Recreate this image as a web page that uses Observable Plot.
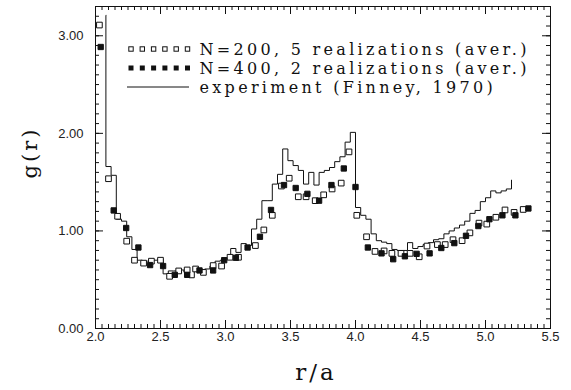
<!DOCTYPE html>
<html><head><meta charset="utf-8">
<script src="https://cdn.jsdelivr.net/npm/d3@7"></script>
<script src="https://cdn.jsdelivr.net/npm/@observablehq/plot@0.6"></script>
<style>html,body{margin:0;padding:0;background:#fff;} #chart{width:571px;height:390px;}</style>
</head><body><div id="chart"></div>
<script>
// ---- data ----
// experiment (Finney, 1970): histogram bin left edges and g(r) (first point = top of initial vertical, last = end of final riser)
const expR = [2.08,2.08,2.12,2.16,2.20,2.24,2.28,2.32,2.36,2.40,2.44,2.48,2.52,2.56,2.60,2.64,2.68,2.72,2.76,2.80,2.84,2.88,2.92,2.96,3.00,3.04,3.08,3.12,3.16,3.20,3.24,3.28,3.32,3.36,3.40,3.44,3.48,3.52,3.56,3.60,3.64,3.68,3.72,3.76,3.80,3.84,3.88,3.92,3.96,4.00,4.04,4.08,4.12,4.16,4.20,4.24,4.28,4.32,4.36,4.40,4.44,4.48,4.52,4.56,4.60,4.64,4.68,4.72,4.76,4.80,4.84,4.88,4.92,4.96,5.00,5.04,5.08,5.12,5.16,5.20];
const expG = [3.21,1.66,1.57,1.12,1.10,0.94,0.81,0.70,0.69,0.69,0.70,0.71,0.56,0.59,0.59,0.60,0.58,0.52,0.59,0.60,0.61,0.64,0.69,0.70,0.72,0.82,0.78,0.87,0.85,1.02,1.12,1.31,1.31,1.48,1.58,1.84,1.72,1.67,1.62,1.48,1.60,1.47,1.60,1.62,1.65,1.71,1.76,1.91,2.01,1.24,1.16,1.12,0.97,0.90,0.885,0.87,0.81,0.80,0.80,0.88,0.82,0.84,0.86,0.88,0.91,0.92,0.97,1.00,1.03,1.06,1.10,1.18,1.21,1.30,1.34,1.41,1.39,1.41,1.43,1.52];
// N=200, 5 realizations (open squares)
const n200R = [2.03,2.10,2.17,2.24,2.30,2.37,2.43,2.50,2.57,2.64,2.705,2.77,2.83,2.905,2.97,3.035,3.10,3.23,3.295,3.36,3.43,3.49,3.56,3.62,3.69,3.755,3.82,3.89,3.95,4.01,4.085,4.15,4.22,4.28,4.35,4.42,4.49,4.55,4.63,4.69,4.75,4.82,4.88,4.95,5.01,5.08,5.15,5.22,5.29];
const n200G = [3.11,1.535,1.15,0.895,0.70,0.67,0.69,0.70,0.535,0.59,0.60,0.61,0.575,0.645,0.64,0.73,0.73,0.85,1.01,1.16,1.46,1.54,1.35,1.35,1.31,1.37,1.43,1.49,1.81,1.16,0.94,0.79,0.795,0.77,0.77,0.77,0.735,0.845,0.86,0.86,0.91,0.90,0.98,1.08,1.07,1.14,1.215,1.19,1.22];
// N=400, 2 realizations (filled squares)
const n400R = [2.04,2.14,2.236,2.33,2.42,2.52,2.61,2.705,2.80,2.905,2.99,3.08,3.17,3.265,3.35,3.45,3.54,3.63,3.72,3.815,3.91,4.00,4.095,4.20,4.29,4.38,4.47,4.57,4.66,4.76,4.85,4.945,5.03,5.13,5.23,5.33];
const n400G = [2.885,1.21,1.03,0.83,0.65,0.64,0.55,0.55,0.595,0.595,0.70,0.725,0.83,0.94,1.215,1.47,1.44,1.38,1.31,1.47,1.64,1.45,0.83,0.77,0.71,0.74,0.765,0.77,0.825,0.875,0.95,1.05,1.12,1.16,1.16,1.23];
// axes
const xTicks = [2.0,2.5,3.0,3.5,4.0,4.5,5.0,5.5];
const xTickLabels = ["2.0","2.5","3.0","3.5","4.0","4.5","5.0","5.5"];
const yTicks = [0,1,2,3];
const yTickLabels = ["0.00","1.00","2.00","3.00"];
const xTitle = "r/a";
const yTitle = "g(r)";
const legendLabels = ["N=200, 5 realizations (aver.)","N=400, 2 realizations (aver.)","experiment (Finney, 1970)"];

// ---- layout ----
const W = 571, H = 390, mL = 95, mR = 21, mT = 6, mB = 62;
const fw = W - mL - mR, fh = H - mT - mB;
const ink = "#111";
const serif = "'DejaVu Serif', 'Liberation Serif', serif";
const sans = "'Liberation Sans', Arial, sans-serif";

const exp = expR.map((r, i) => ({r, g: expG[i]}));
const s200 = n200R.map((r, i) => ({r, g: n200G[i]}));
const s400 = n400R.map((r, i) => ({r, g: n400G[i]}));
const xMinor = d3.range(0, 71).map(i => +(2 + i * 0.05).toFixed(2));
const yMinor = d3.range(0, 34).map(i => +(i * 0.1).toFixed(1));

const plot = Plot.plot({
  width: W, height: H,
  marginLeft: mL, marginRight: mR, marginTop: mT, marginBottom: mB,
  x: {domain: [2, 5.5]},
  y: {domain: [0, 3.3]},
  style: {background: "white", color: ink, overflow: "visible"},
  marks: [
    // inward minor/major ticks on all four sides
    Plot.ruleX(xMinor, {x: d => d, insetTop: fh - 4, stroke: ink, strokeWidth: 1}),
    Plot.ruleX(xMinor, {x: d => d, insetBottom: fh - 4, stroke: ink, strokeWidth: 1}),
    Plot.ruleX(xTicks, {x: d => d, insetTop: fh - 8, stroke: ink, strokeWidth: 1}),
    Plot.ruleX(xTicks, {x: d => d, insetBottom: fh - 8, stroke: ink, strokeWidth: 1}),
    Plot.ruleY(yMinor, {y: d => d, insetRight: fw - 4, stroke: ink, strokeWidth: 1}),
    Plot.ruleY(yMinor, {y: d => d, insetLeft: fw - 4, stroke: ink, strokeWidth: 1}),
    Plot.ruleY(yTicks, {y: d => d, insetRight: fw - 8, stroke: ink, strokeWidth: 1}),
    Plot.ruleY(yTicks, {y: d => d, insetLeft: fw - 8, stroke: ink, strokeWidth: 1}),
    Plot.frame({stroke: ink, strokeWidth: 1}),
    Plot.axisX(xTicks, {anchor: "bottom", tickSize: 0, tickPadding: 3, label: null,
      tickFormat: d => xTickLabels[xTicks.indexOf(d)], fontSize: 13, fontFamily: sans, fill: "#222"}),
    Plot.axisY(yTicks, {anchor: "left", tickSize: 0, tickPadding: 12, label: null,
      tickFormat: d => yTickLabels[yTicks.indexOf(d)], fontSize: 13, fontFamily: sans, fill: "#222"}),
    // data
    Plot.line(exp, {x: "r", y: "g", curve: "step-after", stroke: ink, strokeWidth: 1}),
    Plot.dot(s200, {x: "r", y: "g", symbol: "square", r: 3.2, stroke: ink, strokeWidth: 1, fill: "white"}),
    Plot.dot(s400, {x: "r", y: "g", symbol: "square", r: 3.0, stroke: ink, strokeWidth: 1, fill: ink}),
    // titles
    Plot.text([xTitle], {text: d => d, frameAnchor: "bottom", dx: -7, dy: 44, lineAnchor: "middle",
      fontSize: 23, fontFamily: serif, fill: ink, className: "ttl"}),
    Plot.text([yTitle], {text: d => d, frameAnchor: "left", dx: -65, dy: 11, rotate: -90, lineAnchor: "middle",
      fontSize: 21, fontFamily: serif, fill: ink, className: "ttl"}),
    // legend labels
    ...legendLabels.map((t, i) => Plot.text([t], {text: d => d, frameAnchor: "top-left", dx: 104, dy: 43 + i * 19,
      textAnchor: "start", lineAnchor: "middle", fontSize: 16, fontFamily: serif, fill: ink,
      className: "legtxt"}))
  ]
});

// legend symbols & text tracking
const svg = d3.select(plot);
svg.selectAll(".legtxt text").style("letter-spacing", "3.3px");
svg.selectAll(".ttl text").style("letter-spacing", "3px");
const lg = svg.append("g");
const rowY = i => mT + 43 + i * 19;
for (let k = 0; k < 6; k++) {
  const cx = 131 + k * 11.3;
  lg.append("rect").attr("x", cx - 2.2).attr("y", rowY(0) - 2.2).attr("width", 4.4).attr("height", 4.4)
    .attr("fill", "white").attr("stroke", ink).attr("stroke-width", 1);
  lg.append("rect").attr("x", cx - 2.5).attr("y", rowY(1) - 2.5).attr("width", 5).attr("height", 5)
    .attr("fill", ink);
}
lg.append("line").attr("x1", 127).attr("x2", 189).attr("y1", rowY(2)).attr("y2", rowY(2))
  .attr("stroke", ink).attr("stroke-width", 1);

document.getElementById("chart").append(plot);
</script>
</body></html>
